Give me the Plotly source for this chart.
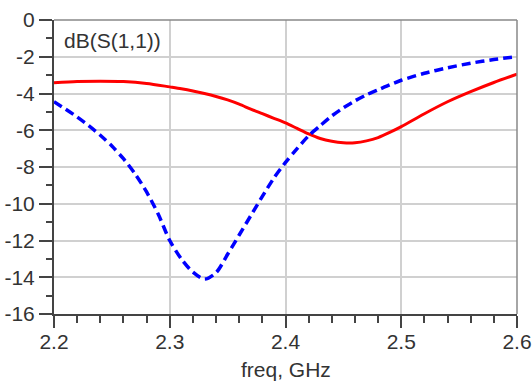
import plotly.graph_objects as go

freq_blue = [2.20, 2.21, 2.22, 2.23, 2.24, 2.25, 2.26, 2.27, 2.28, 2.29,
             2.30, 2.31, 2.32, 2.33, 2.34, 2.35, 2.36, 2.37, 2.38, 2.39,
             2.40, 2.41, 2.42, 2.43, 2.44, 2.45, 2.46, 2.47, 2.48, 2.49,
             2.50, 2.52, 2.54, 2.56, 2.58, 2.60]
s11_blue = [-4.45, -4.85, -5.28, -5.75, -6.27, -6.86, -7.55, -8.37, -9.36, -10.56,
            -12.0, -13.0, -13.72, -14.1, -13.75, -12.75, -11.7, -10.65, -9.6, -8.6,
            -7.75, -7.0, -6.3, -5.75, -5.22, -4.78, -4.4, -4.07, -3.8, -3.53,
            -3.28, -2.9, -2.6, -2.35, -2.15, -2.0]

freq_red = [2.20, 2.22, 2.24, 2.26, 2.28, 2.30, 2.31, 2.32, 2.33, 2.34,
            2.35, 2.36, 2.37, 2.38, 2.39, 2.40, 2.41, 2.42, 2.43, 2.44,
            2.45, 2.46, 2.47, 2.48, 2.49, 2.50, 2.52, 2.54, 2.56, 2.58, 2.60]
s11_red = [-3.42, -3.35, -3.33, -3.35, -3.45, -3.64, -3.74, -3.86, -4.0, -4.16,
           -4.35, -4.58, -4.85, -5.1, -5.35, -5.6, -5.9, -6.2, -6.45, -6.6,
           -6.68, -6.68, -6.58, -6.4, -6.12, -5.8, -5.1, -4.45, -3.9, -3.4, -2.95]

y_ticks = [0, -2, -4, -6, -8, -10, -12, -14, -16]
y_ticktext = ["0", "-2", "-4", "-6", "-8", "-10", "-12", "-14", "-16"]
x_ticks = [2.2, 2.3, 2.4, 2.5, 2.6]
x_ticktext = ["2.2", "2.3", "2.4", "2.5", "2.6"]

FONT = "Liberation Sans, Arial, sans-serif"
FS = 21

fig = go.Figure()
fig.add_trace(go.Scatter(x=freq_red, y=s11_red, mode="lines", hoverinfo="skip",
                         line=dict(color="#ff0000", width=3, shape="spline", smoothing=0.8)))
fig.add_trace(go.Scatter(x=freq_blue, y=s11_blue, mode="lines", hoverinfo="skip",
                         line=dict(color="#0000ff", width=3.5, dash="9px,5px", shape="spline", smoothing=0.8)))

fig.update_layout(
    width=532, height=384,
    margin=dict(l=54, r=15, t=20, b=70),
    paper_bgcolor="white", plot_bgcolor="white",
    showlegend=False,
    font=dict(family=FONT, size=FS, color="#333333"),
    xaxis=dict(range=[2.2, 2.6], tickvals=x_ticks, ticktext=x_ticktext,
               automargin=False, ticklabelstandoff=-4,
               showgrid=True, gridcolor="#d0d0d0", gridwidth=1.5,
               zeroline=False, showline=True, linecolor="#444444", linewidth=2,
               ticks="outside", ticklen=12, tickwidth=2, tickcolor="#444444",
               minor=dict(dtick=0.02, tick0=2.2, ticks="outside", ticklen=7,
                          tickwidth=1.5, tickcolor="#444444", showgrid=False),
               tickfont=dict(size=FS, color="#333333")),
    yaxis=dict(range=[-16, 0], tickvals=y_ticks, ticktext=y_ticktext,
               automargin=False,
               showgrid=True, gridcolor="#d0d0d0", gridwidth=1.5,
               zeroline=False, showline=True, linecolor="#444444", linewidth=2,
               ticks="outside", ticklen=13, tickwidth=2, tickcolor="#444444",
               minor=dict(dtick=1, tick0=0, ticks="outside", ticklen=6,
                          tickwidth=1.5, tickcolor="#444444", showgrid=False),
               tickfont=dict(size=FS, color="#333333")),
    shapes=[dict(type="line", xref="paper", yref="paper", x0=0, x1=1, y0=1, y1=1,
                 line=dict(color="#888888", width=1.5)),
            dict(type="line", xref="paper", yref="paper", x0=1, x1=1, y0=0, y1=1,
                 line=dict(color="#888888", width=1.5))],
    annotations=[
        dict(text="dB(S(1,1))", xref="paper", yref="paper", x=0.018, y=0.975,
             xanchor="left", yanchor="top", showarrow=False,
             font=dict(family=FONT, size=FS, color="#333333")),
        dict(text="freq, GHz", xref="paper", yref="paper", x=0.5, y=-0.143,
             xanchor="center", yanchor="top", showarrow=False,
             font=dict(family=FONT, size=FS, color="#333333")),
    ],
)

fig.write_html("out.html", config={"displayModeBar": False},
               post_script="document.body.style.margin='0';document.body.style.overflow='hidden';")
